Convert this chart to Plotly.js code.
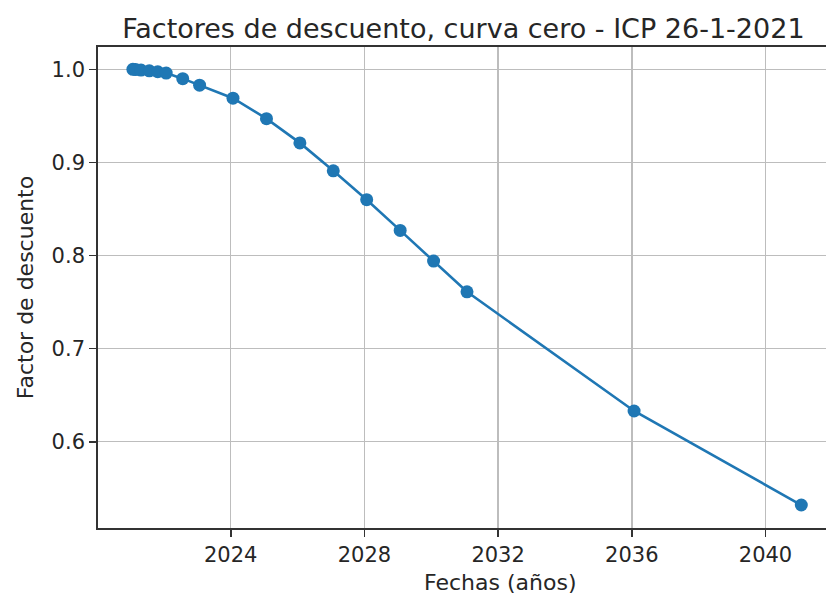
<!DOCTYPE html>
<html>
<head>
<meta charset="utf-8">
<script src="https://cdn.plot.ly/plotly-3.0.1.min.js"></script>
<style>
  html, body { margin: 0; padding: 0; background: #fff; overflow: hidden; }
  #chart { width: 826px; height: 602px; }
</style>
</head>
<body>
<div id="chart"></div>
<script>
// Zero-coupon ICP curve, valuation date 26-1-2021: maturity dates and discount factors
const fechas = [
  "2021-01-27", "2021-02-26", "2021-04-26", "2021-07-26", "2021-10-26",
  "2022-01-26", "2022-07-26", "2023-01-26", "2024-01-26", "2025-01-26",
  "2026-01-26", "2027-01-26", "2028-01-26", "2029-01-26", "2030-01-26",
  "2031-01-26", "2036-01-26", "2041-01-26"
];
const factores = [
  1.0000, 0.9997, 0.9992, 0.9984, 0.9974,
  0.9960, 0.9900, 0.9830, 0.9690, 0.9470,
  0.9210, 0.8910, 0.8600, 0.8270, 0.7940,
  0.7610, 0.6330, 0.5320
];
const xTicks = ["2024-01-01", "2028-01-01", "2032-01-01", "2036-01-01", "2040-01-01"];
const xTickText = ["2024", "2028", "2032", "2036", "2040"];
const yTicks = [0.6, 0.7, 0.8, 0.9, 1.0];

const azul = "#1f77b4";
const texto = "#262626";
const fuente = "DejaVu Sans, sans-serif";

const trace = {
  x: fechas,
  y: factores,
  type: "scatter",
  mode: "lines+markers",
  line: { color: azul, width: 2.6 },
  marker: { color: azul, size: 13 },
  hoverinfo: "x+y"
};

const layout = {
  width: 826,
  height: 602,
  paper_bgcolor: "#ffffff",
  plot_bgcolor: "#ffffff",
  margin: { l: 98, r: 0, t: 47, b: 74, pad: 0 },
  showlegend: false,
  font: { family: fuente, color: texto, size: 21 },
  title: {
    text: "Factores de descuento, curva cero - ICP 26-1-2021",
    font: { family: fuente, size: 27, color: texto },
    x: 0.561, xref: "container", xanchor: "center",
    y: 0.953, yref: "container", yanchor: "middle"
  },
  // x-axis label placed as a free annotation below the tick labels
  annotations: [{
    text: "Fechas (años)",
    xref: "paper", yref: "paper",
    x: 0.552, y: -0.114,
    xanchor: "center", yanchor: "middle",
    showarrow: false,
    font: { family: fuente, size: 22, color: texto }
  }],
  xaxis: {
    type: "date",
    range: ["2020-01-12", "2041-10-23"],
    tickmode: "array",
    tickvals: xTicks,
    ticktext: xTickText,
    showgrid: true,
    gridcolor: "#bdbdbd",
    gridwidth: 1.5,
    zeroline: false,
    showline: true,
    linecolor: "#333333",
    linewidth: 1.8,
    mirror: true,
    ticks: "outside",
    ticklen: 7,
    tickwidth: 1.6,
    tickcolor: "#333333",
    tickfont: { family: fuente, size: 21, color: texto }
  },
  yaxis: {
    range: [0.5073, 1.0240],
    tickmode: "array",
    tickvals: yTicks,
    tickformat: ".1f",
    showgrid: true,
    gridcolor: "#bdbdbd",
    gridwidth: 1.5,
    zeroline: false,
    showline: true,
    linecolor: "#333333",
    linewidth: 1.8,
    mirror: false,
    ticks: "outside",
    ticklen: 7,
    tickwidth: 1.6,
    tickcolor: "#333333",
    tickfont: { family: fuente, size: 21, color: texto },
    title: {
      text: "Factor de descuento",
      font: { family: fuente, size: 22, color: texto },
      standoff: 12
    }
  }
};

Plotly.newPlot("chart", [trace], layout, { displayModeBar: false, staticPlot: true });
</script>
</body>
</html>
